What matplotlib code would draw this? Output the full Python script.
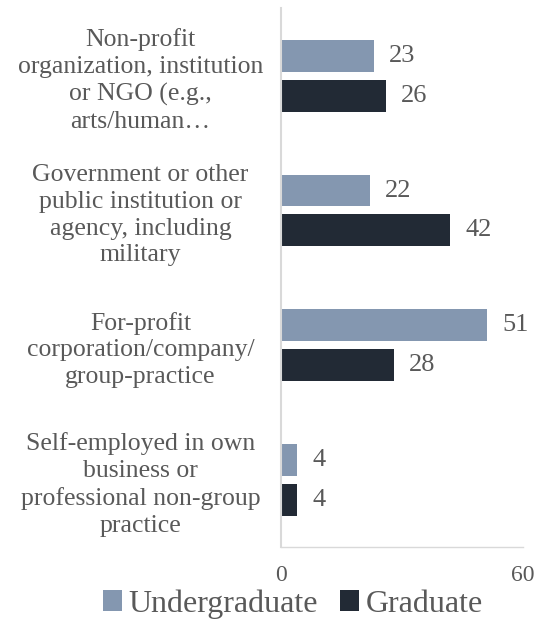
import matplotlib.pyplot as plt
import numpy as np

plt.rcParams['font.family'] = ['Liberation Serif', 'DejaVu Serif']

categories = ["Non-profit\norganization, institution\nor NGO (e.g.,\narts/human\u2026",
              "Government or other\npublic institution or\nagency, including\nmilitary",
              "For-profit\ncorporation/company/\ngroup-practice",
              "Self-employed in own\nbusiness or\nprofessional non-group\npractice"]
undergrad = [23, 22, 51, 4]
graduate = [26, 42, 28, 4]

c_ug = '#8497b0'
c_gr = '#222a35'
c_txt = '#595959'
c_axis = '#d9d9d9'

fig = plt.figure(figsize=(5.42, 6.19), dpi=100)
ax = fig.add_axes([0.518, 0.1163, 0.447, 0.87])

y = np.arange(len(categories))
h = 0.237
off = 0.148
b1 = ax.barh(y - off, undergrad, height=h, color=c_ug, label='Undergraduate')
b2 = ax.barh(y + off, graduate, height=h, color=c_gr, label='Graduate')

for bars, vals in [(b1, undergrad), (b2, graduate)]:
    for bar, v in zip(bars, vals):
        ax.annotate(str(v), (bar.get_width(), bar.get_y() + bar.get_height() / 2),
                    xytext=(11, 0), textcoords='offset points',
                    ha='left', va='center', fontsize=19, color=c_txt)

ax.set_ylim(3.5, -0.5)
ax.set_xlim(0, 60)
ax.set_xticks([0, 60])
ax.set_yticks(y)
ax.set_yticklabels(categories)
for lbl in ax.get_yticklabels():
    lbl.set_ha('center')
    lbl.set_multialignment('center')
    lbl.set_linespacing(1.28)
ax.tick_params(axis='y', length=0, pad=101, labelsize=18.5, labelcolor=c_txt)
ax.tick_params(axis='x', length=0, pad=13, labelsize=17, labelcolor=c_txt)

for s in ['top', 'right']:
    ax.spines[s].set_visible(False)
ax.spines['left'].set_color(c_axis)
ax.spines['left'].set_linewidth(1.5)
ax.spines['bottom'].set_color(c_axis)
ax.spines['bottom'].set_linewidth(1.0)

fig.legend(loc='center', bbox_to_anchor=(0.54, 0.024), ncol=2, frameon=False,
           fontsize=23, labelcolor=c_txt, handlelength=0.6, handleheight=0.6,
           handletextpad=0.2, columnspacing=0.7)

fig.savefig('out.png', dpi=100)
